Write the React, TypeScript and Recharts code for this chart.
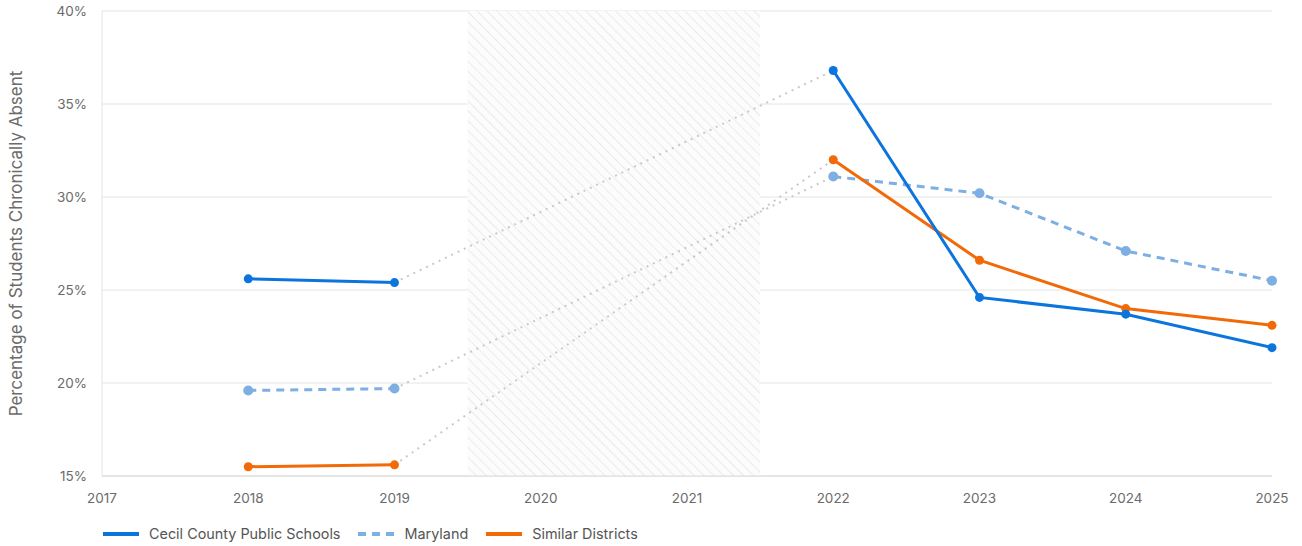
import { LineChart, Line, XAxis, YAxis, CartesianGrid, ReferenceArea, Label } from 'recharts';

const years = [2018, 2019, 2020, 2021, 2022, 2023, 2024, 2025];
const cecil = [25.6, 25.4, null, null, 36.8, 24.6, 23.7, 21.9];
const maryland = [19.6, 19.7, null, null, 31.1, 30.2, 27.1, 25.5];
const similar = [15.5, 15.6, null, null, 32.0, 26.6, 24.0, 23.1];
const xTicks = [2017, 2018, 2019, 2020, 2021, 2022, 2023, 2024, 2025];
const yTicks = [15, 20, 25, 30, 35, 40];
const gapYears = [2019.5, 2021.5];

const BLUE = '#0B75DD';
const LIGHT_BLUE = '#7DAFE2';
const ORANGE = '#F26A08';
const TEXT = '#6b6b6b';
const FONT = 'Inter, "Noto Sans", sans-serif';

// bridge across the gap: last value before it and first value after it
function bridge(vals: (number | null)[]) {
    const out: (number | null)[] = vals.map(() => null);
    for (let i = 0; i < vals.length - 1; i++) {
        if (vals[i] != null && vals[i + 1] == null) {
            let j = i + 1;
            while (j < vals.length && vals[j] == null) j++;
            if (j < vals.length) {
                out[i] = vals[i];
                out[j] = vals[j];
            }
        }
    }
    return out;
}

const cecilGap = bridge(cecil);
const marylandGap = bridge(maryland);
const similarGap = bridge(similar);

const data = years.map((year, i) => ({
    year,
    cecil: cecil[i],
    maryland: maryland[i],
    similar: similar[i],
    cecilGap: cecilGap[i],
    marylandGap: marylandGap[i],
    similarGap: similarGap[i],
}));

const legendItems = [
    { name: 'Cecil County Public Schools', color: BLUE, dash: undefined },
    { name: 'Maryland', color: LIGHT_BLUE, dash: '8 6' },
    { name: 'Similar Districts', color: ORANGE, dash: undefined },
];

export default function App() {
    const gapStyle = { stroke: '#c9c9c9', strokeWidth: 2, strokeDasharray: '2 5', dot: false, activeDot: false, connectNulls: true, isAnimationActive: false, legendType: 'none' as const };

    return (
        <div style={{ position: 'absolute', left: 0, top: 0, width: 1302, height: 546, fontFamily: FONT, background: '#fff' }}>
            <LineChart width={1302} height={516} data={data} margin={{ top: 11, right: 30, bottom: 0, left: 0 }}>
                <defs>
                    <pattern id="hatch" width="7" height="7" patternUnits="userSpaceOnUse" patternTransform="rotate(-45)">
                        <rect width="7" height="7" fill="#fcfcfc" />
                        <line x1="0" y1="0" x2="0" y2="7" stroke="#e0e0e0" strokeWidth="1.2" />
                    </pattern>
                </defs>
                <CartesianGrid vertical={false} stroke="#e4e4e4" />
                <ReferenceArea x1={gapYears[0]} x2={gapYears[1]} y1={15} y2={40} fill="url(#hatch)" fillOpacity={1} stroke="none" />
                <XAxis
                    dataKey="year"
                    type="number"
                    domain={[2017, 2025]}
                    ticks={xTicks}
                    tickLine={false}
                    axisLine={{ stroke: '#d8d8d8' }}
                    tick={{ fill: TEXT, fontSize: 13.5, fontFamily: FONT }}
                    tickMargin={11}
                    height={40}
                />
                <YAxis
                    type="number"
                    domain={[15, 40]}
                    ticks={yTicks}
                    width={102}
                    tickLine={false}
                    axisLine={{ stroke: '#e4e4e4' }}
                    tick={{ fill: TEXT, fontSize: 13.5, fontFamily: FONT }}
                    tickMargin={9}
                    tickFormatter={(v: number) => `${v}%`}
                >
                    <Label
                        value="Percentage of Students Chronically Absent"
                        angle={-90}
                        position="insideLeft"
                        offset={16}
                        style={{ textAnchor: 'middle', fill: TEXT, fontSize: 17, fontFamily: FONT }}
                    />
                </YAxis>
                <Line dataKey="cecilGap" {...gapStyle} />
                <Line dataKey="marylandGap" {...gapStyle} />
                <Line dataKey="similarGap" {...gapStyle} />
                <Line
                    dataKey="maryland"
                    stroke={LIGHT_BLUE}
                    strokeWidth={3}
                    strokeDasharray="8 6"
                    dot={{ r: 5, fill: LIGHT_BLUE, stroke: LIGHT_BLUE, strokeWidth: 0, strokeDasharray: '' }}
                    activeDot={false}
                    isAnimationActive={false}
                />
                <Line
                    dataKey="similar"
                    stroke={ORANGE}
                    strokeWidth={3}
                    dot={{ r: 4.5, fill: ORANGE, stroke: ORANGE, strokeWidth: 0 }}
                    activeDot={false}
                    isAnimationActive={false}
                />
                <Line
                    dataKey="cecil"
                    stroke={BLUE}
                    strokeWidth={3}
                    dot={{ r: 4.5, fill: BLUE, stroke: BLUE, strokeWidth: 0 }}
                    activeDot={false}
                    isAnimationActive={false}
                />
            </LineChart>
            <div style={{ position: 'absolute', left: 103, top: 525, display: 'flex', alignItems: 'center', fontSize: 14.4, color: '#555' }}>
                {legendItems.map((item) => (
                    <div key={item.name} style={{ display: 'flex', alignItems: 'center', marginRight: 18 }}>
                        <svg width={36} height={6} style={{ marginRight: 10 }}>
                            <line x1={0} y1={3} x2={36} y2={3} stroke={item.color} strokeWidth={4} strokeDasharray={item.dash} />
                        </svg>
                        <span>{item.name}</span>
                    </div>
                ))}
            </div>
        </div>
    );
}
